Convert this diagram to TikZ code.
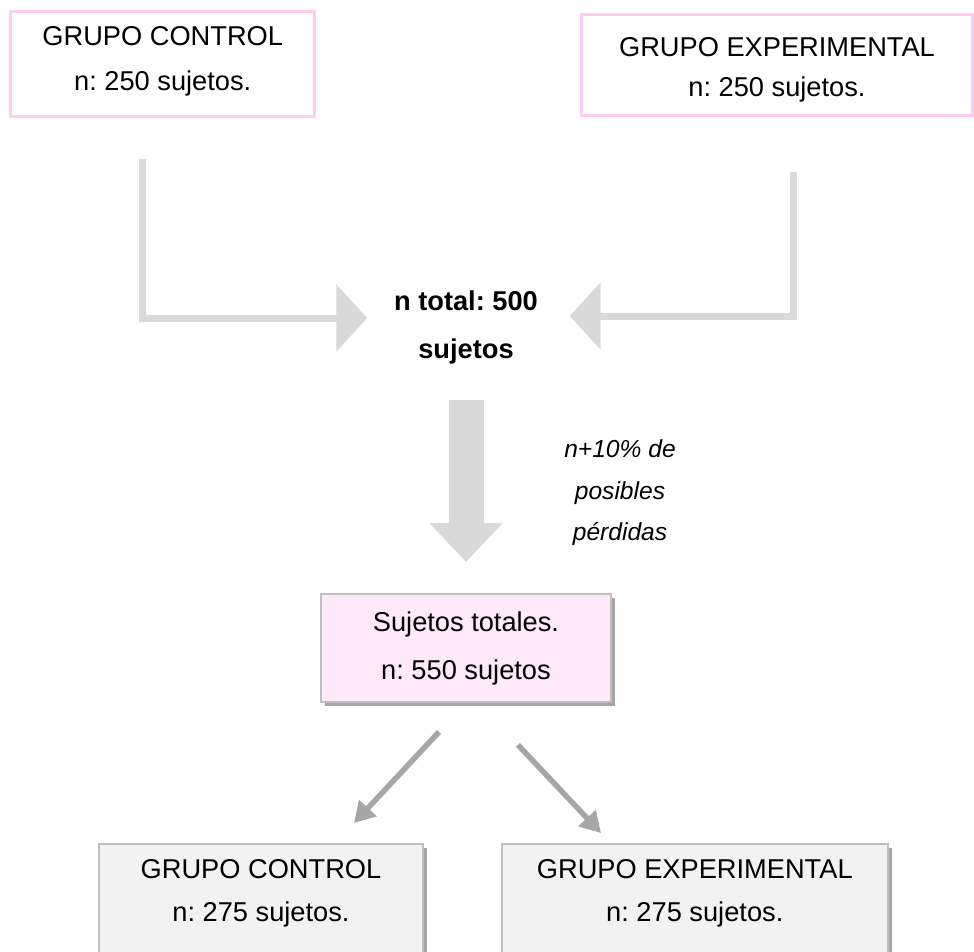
\documentclass[tikz,border=0pt]{standalone}
\usepackage{fontspec}
\setmainfont{Liberation Sans}
\frenchspacing
\usepackage{tikz}
\usetikzlibrary{arrows.meta,shadows}
\definecolor{pinkline}{HTML}{FFCCF2}
\definecolor{pinkfill}{HTML}{FDE9F9}
\definecolor{boxline}{HTML}{BFBFBF}
\definecolor{boxfill}{HTML}{F2F2F2}
\definecolor{lightarrow}{HTML}{D9D9D9}
\definecolor{darkarrow}{HTML}{A6A6A6}
\tikzset{
	groupbox/.style={rectangle,draw=pinkline,line width=0.06cm,align=center,font=\fontsize{15.5}{25.6}\selectfont},
	finalbox/.style={rectangle,draw=boxline,fill=boxfill,line width=0.04cm,align=center,font=\fontsize{15.5}{24.5}\selectfont,drop shadow={shadow xshift=0.08cm,shadow yshift=-0.08cm,fill=darkarrow,opacity=1}},
	flowarrow/.style={draw=lightarrow,line width=0.14cm,-{Triangle[length=0.62cm,width=1.32cm]}},
	downarrow/.style={draw=lightarrow,line width=0.7cm,-{Triangle[length=0.78cm,width=1.42cm]}},
	splitarrow/.style={draw=darkarrow,line width=0.11cm,-{Triangle[length=0.41cm,width=0.46cm]}}
}
\begin{document}
\begin{tikzpicture}[x=0.02cm,y=-0.02cm]
			\useasboundingbox (0,0) rectangle (974,951);
			\node (ctrl) at (162.75,64.2) [groupbox,minimum width=6.09cm,minimum height=2.1cm,text depth=0.22cm] {GRUPO CONTROL\\n: 250 sujetos.};
			\node (exper) at (777,65) [groupbox,minimum width=7.82cm,minimum height=2.03cm,text height=1.38cm,font=\fontsize{15.5}{22.8}\selectfont] {GRUPO EXPERIMENTAL\\n: 250 sujetos.};
			\node (total) at (466,327) [inner sep=0pt,align=center,font=\bfseries\fontsize{15.5}{27.3}\selectfont] {n total: 500\\sujetos};
			\node (loss) at (620,493) [inner sep=0pt,align=center,font=\itshape\fontsize{14}{23.6}\selectfont] {n+10\% de\\posibles\\pérdidas};
			\node (tot) at (466,648) [rectangle,draw=boxline,fill=pinkfill,line width=0.04cm,align=center,minimum width=5.82cm,minimum height=2.16cm,font=\fontsize{15.5}{27.3}\selectfont,drop shadow={shadow xshift=0.08cm,shadow yshift=-0.08cm,fill=darkarrow,opacity=1}] {Sujetos totales.\\n: 550 sujetos};
			\node (bctrl) at (261,843) [finalbox,anchor=north,minimum width=6.48cm,inner ysep=0.3cm,text depth=3cm] {GRUPO CONTROL\\n: 275 sujetos.};
			\node (bexp) at (694.8,843) [finalbox,anchor=north,minimum width=7.72cm,inner ysep=0.3cm,text depth=3cm] {GRUPO EXPERIMENTAL\\n: 275 sujetos.};
			\coordinate (ltip) at (354,823);
			\coordinate (rtip) at (601,833);
			\draw[flowarrow,shorten <=0.81cm,shorten >=0.53cm] ([xshift=-0.415cm]ctrl.south) |- ([yshift=0.18cm]total.west);
			\draw[flowarrow,shorten <=1.09cm,shorten >=0.63cm] ([xshift=0.32cm]exper.south) |- ([yshift=0.22cm]total.east);
			\draw[downarrow,shorten <=0.725cm,shorten >=0.62cm] (total.south) to (tot.north);
			\draw[splitarrow,shorten <=0.79cm] (tot.south) to (ltip);
			\draw[splitarrow,shorten <=1.15cm] ([xshift=0.25cm]tot.south) to (rtip);
		\end{tikzpicture}
\end{document}
